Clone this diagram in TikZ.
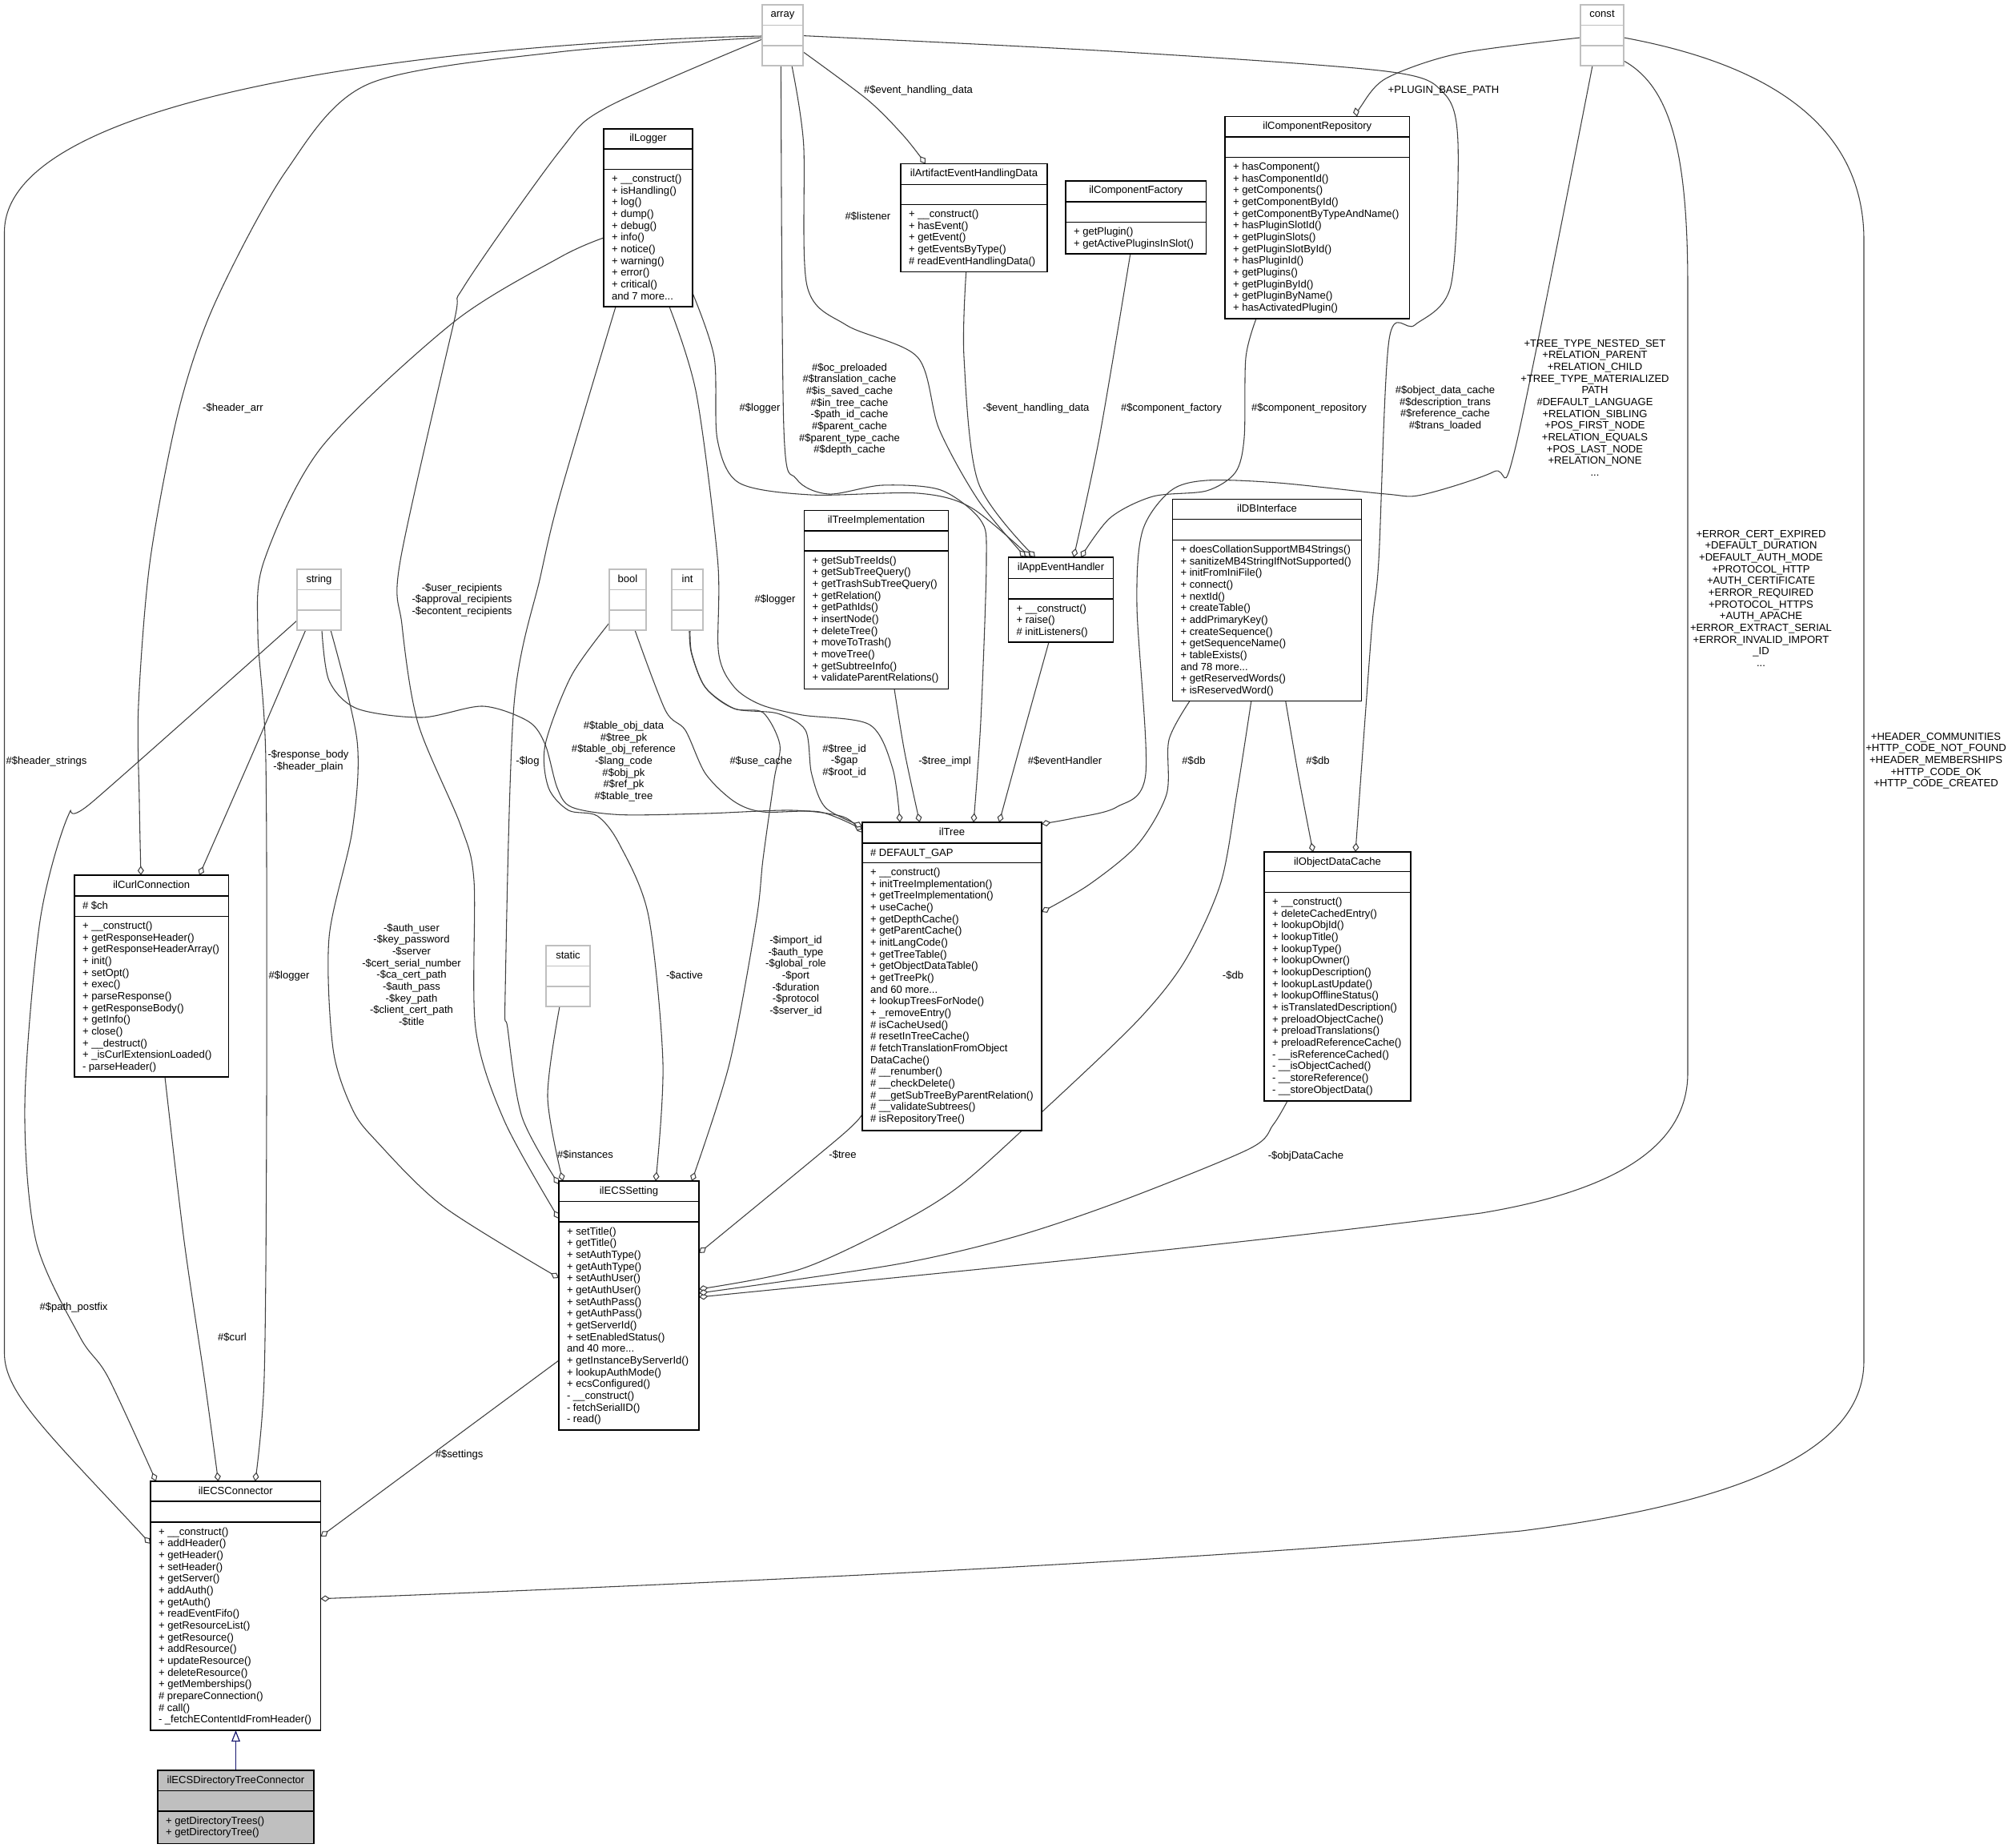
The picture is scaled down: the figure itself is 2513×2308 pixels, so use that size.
\documentclass[tikz,border=0pt]{standalone}
\usepackage{fontspec}
\setmainfont{Liberation Sans}
\usetikzlibrary{arrows.meta,calc}
\definecolor{edgec}{HTML}{404040}
\definecolor{graybd}{HTML}{BFBFBF}
\definecolor{inhc}{HTML}{191970}
\pgfdeclarelayer{bg}
\pgfsetlayers{bg,main}
\newcommand\mlistx[1]{\vtop{\baselineskip=11pt\lineskiplimit=-100pt\lineskip=0pt\halign{##\hfil\cr#1\crcr}}}
\newcommand\clistx[1]{\vtop{\baselineskip=11pt\lineskiplimit=-100pt\lineskip=0pt\halign{\hfil##\hfil\cr#1\crcr}}}
\tikzset{
  x=0.75pt, y=-0.75pt,
  clsbox/.style={draw=black, line width=1pt, inner sep=0pt, outer sep=0pt, anchor=north west, fill=white},
  clsline/.style={draw=black, line width=1pt},
  txt/.style={inner sep=0pt, outer sep=0pt, font=\fontsize{9.8}{11}\selectfont},
  edge/.style={draw=edgec, line width=0.8pt, -{Diamond[length=8.6pt,width=6pt,fill=white]}},
  inh/.style={draw=inhc, line width=0.9pt, -{Triangle[open,length=10.5pt,width=8pt]}},
}
\newcommand\umlclass[9]{%
  \node[clsbox,#1,minimum width={(#5-#3)*0.75pt},minimum height={(#6-#4)*0.75pt}] (#2) at (#3,#4) {};
  \draw[clsline,#1] ($(#2.north west)+(0,#7)$) -- ($(#2.north east)+(0,#7)$);
  \draw[clsline,#1] ($(#2.north west)+(0,#8)$) -- ($(#2.north east)+(0,#8)$);
  \node[txt,anchor=base] (#2-t) at ($(#2.north)+(0,16)$) {#9};
}
\newcommand\umlattr[3]{\node[txt,anchor=base west] (#1-a) at ($(#1.north west)+(10,#2+16)$) {\mlistx{#3}};}
\newcommand\umlmeth[3]{\node[txt,anchor=base west] (#1-m) at ($(#1.north west)+(10,#2+16)$) {\mlistx{#3}};}
\newcommand\lbl[4]{\node[txt,anchor=base] (#1) at (#2,#3) {\clistx{#4}};}
\begin{document}
\begin{tikzpicture}
\useasboundingbox (0,0) rectangle (2513,2308);
\begin{pgfonlayer}{bg}
\fill[white] (0,0) rectangle (2513,2308);
\end{pgfonlayer}
% ---------- classes ----------
\umlclass{draw=graybd}{array}{952}{6}{1003}{82}{25.5}{51}{array}
\umlclass{draw=graybd}{const}{1974}{6}{2028}{82}{25.5}{51}{const}
\umlclass{draw=graybd}{string}{371}{711}{426}{787}{25.5}{51}{string}
\umlclass{draw=graybd}{bool}{761}{711}{807}{787}{25.5}{51}{bool}
\umlclass{draw=graybd}{int}{839}{711}{878}{787}{25.5}{51}{int}
\umlclass{draw=graybd}{static}{682}{1181}{737}{1257}{25.5}{51}{static}

\umlclass{}{logger}{754}{161}{865}{383}{25}{50.5}{ilLogger}
\umlmeth{logger}{50.5}{+ \_\_construct()\cr + isHandling()\cr + log()\cr + dump()\cr + debug()\cr + info()\cr + notice()\cr + warning()\cr + error()\cr + critical()\cr and 7 more...}

\umlclass{}{artifact}{1125}{204.5}{1308}{339.5}{26}{51}{ilArtifactEventHandlingData}
\umlmeth{artifact}{51}{+ \_\_construct()\cr + hasEvent()\cr + getEvent()\cr + getEventsByType()\cr \# readEventHandlingData()}

\umlclass{}{factory}{1331}{226}{1506.5}{317}{26}{51.5}{ilComponentFactory}
\umlmeth{factory}{51.5}{+ getPlugin()\cr + getActivePluginsInSlot()}

\umlclass{}{repo}{1530}{145.5}{1760.5}{398}{25.5}{51}{ilComponentRepository}
\umlmeth{repo}{51}{+ hasComponent()\cr + hasComponentId()\cr + getComponents()\cr + getComponentById()\cr + getComponentByTypeAndName()\cr + hasPluginSlotId()\cr + getPluginSlots()\cr + getPluginSlotById()\cr + hasPluginId()\cr + getPlugins()\cr + getPluginById()\cr + getPluginByName()\cr + hasActivatedPlugin()}

\umlclass{}{treeimpl}{1004.5}{637.5}{1184.5}{860.5}{25.5}{50.5}{ilTreeImplementation}
\umlmeth{treeimpl}{50.5}{+ getSubTreeIds()\cr + getSubTreeQuery()\cr + getTrashSubTreeQuery()\cr + getRelation()\cr + getPathIds()\cr + insertNode()\cr + deleteTree()\cr + moveToTrash()\cr + moveTree()\cr + getSubtreeInfo()\cr + validateParentRelations()}

\umlclass{}{appev}{1259.5}{696}{1390.5}{802}{26.5}{52}{ilAppEventHandler}
\umlmeth{appev}{52}{+ \_\_construct()\cr + raise()\cr \# initListeners()}

\umlclass{}{dbi}{1464.5}{623.5}{1700.5}{875.5}{25}{51}{ilDBInterface}
\umlmeth{dbi}{51}{+ doesCollationSupportMB4Strings()\cr + sanitizeMB4StringIfNotSupported()\cr + initFromIniFile()\cr + connect()\cr + nextId()\cr + createTable()\cr + addPrimaryKey()\cr + createSequence()\cr + getSequenceName()\cr + tableExists()\cr and 78 more...\cr + getReservedWords()\cr + isReservedWord()}

\umlclass{}{tree}{1077}{1027}{1301}{1412}{26}{50.5}{ilTree}
\umlattr{tree}{26}{\# DEFAULT\_GAP}
\umlmeth{tree}{50.5}{+ \_\_construct()\cr + initTreeImplementation()\cr + getTreeImplementation()\cr + useCache()\cr + getDepthCache()\cr + getParentCache()\cr + initLangCode()\cr + getTreeTable()\cr + getObjectDataTable()\cr + getTreePk()\cr and 60 more...\cr + lookupTreesForNode()\cr + \_removeEntry()\cr \# isCacheUsed()\cr \# resetInTreeCache()\cr \# fetchTranslationFromObject\cr DataCache()\cr \# \_\_renumber()\cr \# \_\_checkDelete()\cr \# \_\_getSubTreeByParentRelation()\cr \# \_\_validateSubtrees()\cr \# isRepositoryTree()}

\umlclass{}{odc}{1579}{1064}{1762}{1375}{24.5}{50.5}{ilObjectDataCache}
\umlmeth{odc}{50.5}{+ \_\_construct()\cr + deleteCachedEntry()\cr + lookupObjId()\cr + lookupTitle()\cr + lookupType()\cr + lookupOwner()\cr + lookupDescription()\cr + lookupLastUpdate()\cr + lookupOfflineStatus()\cr + isTranslatedDescription()\cr + preloadObjectCache()\cr + preloadTranslations()\cr + preloadReferenceCache()\cr - \_\_isReferenceCached()\cr - \_\_isObjectCached()\cr - \_\_storeReference()\cr - \_\_storeObjectData()}

\umlclass{}{curl}{93}{1093}{285.5}{1345}{26}{51.5}{ilCurlConnection}
\umlattr{curl}{26}{\# \$ch}
\umlmeth{curl}{51.5}{+ \_\_construct()\cr + getResponseHeader()\cr + getResponseHeaderArray()\cr + init()\cr + setOpt()\cr + exec()\cr + parseResponse()\cr + getResponseBody()\cr + getInfo()\cr + close()\cr + \_\_destruct()\cr + \_isCurlExtensionLoaded()\cr - parseHeader()}

\umlclass{}{setting}{698}{1475}{873}{1786}{25.5}{51}{ilECSSetting}
\umlmeth{setting}{51}{+ setTitle()\cr + getTitle()\cr + setAuthType()\cr + getAuthType()\cr + setAuthUser()\cr + getAuthUser()\cr + setAuthPass()\cr + getAuthPass()\cr + getServerId()\cr + setEnabledStatus()\cr and 40 more...\cr + getInstanceByServerId()\cr + lookupAuthMode()\cr + ecsConfigured()\cr - \_\_construct()\cr - fetchSerialID()\cr - read()}

\umlclass{}{conn}{188}{1850}{400.5}{2161}{25}{51}{ilECSConnector}
\umlmeth{conn}{51}{+ \_\_construct()\cr + addHeader()\cr + getHeader()\cr + setHeader()\cr + getServer()\cr + addAuth()\cr + getAuth()\cr + readEventFifo()\cr + getResourceList()\cr + getResource()\cr + addResource()\cr + updateResource()\cr + deleteResource()\cr + getMemberships()\cr \# prepareConnection()\cr \# call()\cr - \_fetchEContentIdFromHeader()}

\umlclass{fill=graybd}{dirtree}{197}{2211}{392}{2302.5}{25.5}{51}{ilECSDirectoryTreeConnector}
\umlmeth{dirtree}{51}{+ getDirectoryTrees()\cr + getDirectoryTree()}

% ---------- connectors ----------
\begin{pgfonlayer}{bg}
% array
\draw[edge] ($(array.north west)+(0,39)$) .. controls (600,52) and (5.5,110) .. (5.5,290) -- (5.5,1690) .. controls (5.5,1740) and (60,1790) .. ($(conn.north west)+(0,78)$);
\draw[edge] plot[smooth] coordinates {($(array.north west)+(0,41)$) (700,64.7) (460,105) (357,214) (268,379.5) (223,513) (187.5,700) (173,880) (174,1000) ($(curl.north west)+(83,0)$)};
\draw[edge] plot[smooth] coordinates {($(array.north west)+(0,43)$) (758,134) (700,187.5) (580,357) (567,402) (500,700) (502,780) (522,903) (575,1030) (592,1100) (594,1284) (630,1400) ($(setting.north west)+(0,47)$)};
\draw[edge] plot[smooth] coordinates {($(array.north east)+(0,58.7)$) (1084,125) (1128.6,169.6) ($(artifact.north west)+(31,0)$)};
\draw[edge] plot[smooth] coordinates {($(array.south west)+(37,0)$) (1003.6,178.6) (1008,357) (1057,406) (1146,446) (1173,536) (1222,625) ($(appev.north west)+(21.5,0)$)};
\draw[edge] plot[smooth] coordinates {($(array.south west)+(23.4,0)$) (979,535.7) (994.6,598) (1035,617) (1102,606) (1175,612) (1225,650) (1232,700) (1225,900) ($(tree.north west)+(139,0)$)};
\draw[edge] plot[smooth] coordinates {($(array.north east)+(0,38.6)$) (1400,64.7) (1731,89) (1803,116) (1821,178.6) (1812,357) (1767,406) (1735,424) (1722,700) (1713,789) ($(odc.north west)+(114,0)$)};
% const
\draw[edge] plot[smooth] coordinates {($(const.north west)+(0,41)$) (1821,67) (1731,98) (1699,134) ($(repo.north west)+(165,0)$)};
\draw[edge] plot[smooth] coordinates {($(const.south west)+(15,0)$) (1893,558) (1866,589) (1776,618) (1731,617) (1596,603) (1507,600) (1462,613) (1427,663) (1420,757) (1431,966) (1394.6,1008) (1340,1022) ($(tree.north east)+(0,2)$)};
\draw[edge] ($(const.north east)+(0,70)$) .. controls (2090,110) and (2108,200) .. (2108,360) -- (2108,1340) .. controls (2108,1440) and (2000,1490) .. (1850,1515) .. controls (1500,1560) and (1100,1597) .. ($(setting.north east)+(0,145)$);
\draw[edge] ($(const.north east)+(0,41)$) .. controls (2180,75) and (2328,140) .. (2328,300) -- (2328,1700) .. controls (2328,1820) and (2150,1880) .. (1900,1912) .. controls (1500,1950) and (900,1977) .. ($(conn.north east)+(0,146.7)$);
% ilLogger
\draw[edge] plot[smooth] coordinates {($(logger.north west)+(0,136)$) (700,321) (567,402) (402,558) (330,700) (322,790) (332,950) (333,1380) (330,1720) ($(conn.north west)+(130.7,0)$)};
\draw[edge] plot[smooth] coordinates {($(logger.south west)+(15,0)$) (700,616) (675,720) (642,880) (631,1240) (634,1284) (652,1395) ($(setting.north west)+(0,4)$)};
\draw[edge] plot[smooth] coordinates {($(logger.north east)+(0,205)$) (892,446) (896,549) (923,603) (1012.5,618) (1146,616) (1213,634) ($(appev.north west)+(27.5,0)$)};
\draw[edge] plot[smooth] coordinates {($(logger.south west)+(82,0)$) (869.6,491) (896.4,700) (897.5,815) (917,858) (950,880) (1002,893) (1086,905) (1115,960) ($(tree.north west)+(47,0)$)};
% into ilAppEventHandler
\draw[edge] plot[smooth] coordinates {($(artifact.south west)+(81.7,0)$) (1204,446) (1222,603) ($(appev.north west)+(33.5,0)$)};
\draw[edge] plot[smooth] coordinates {($(factory.south west)+(80.8,0)$) (1373,547) ($(appev.north west)+(81.5,0)$)};
\draw[edge] plot[smooth] coordinates {($(repo.south west)+(39,0)$) (1556,446.7) (1554,546.7) (1543,590) (1507,613) (1440,620) (1386.6,646.7) ($(appev.north west)+(90.5,0)$)};
% into ilTree
\draw[edge] plot[smooth] coordinates {($(treeimpl.south west)+(112.5,0)$) (1130,940) ($(tree.north west)+(71.7,0)$)};
\draw[edge] plot[smooth] coordinates {($(appev.south west)+(50.5,0)$) (1280,910) ($(tree.north west)+(171,0)$)};
\draw[edge] plot[smooth] coordinates {($(dbi.south west)+(21.5,0)$) (1460,924) (1457,992) (1420.7,1055) (1360,1105) ($(tree.north east)+(0,112)$)};
\draw[edge] plot[smooth] coordinates {($(string.south west)+(31,0)$) (411,850) (446,885) (527,896) (603,882) (660,901) (681,930) (696,984) (714,1008) (774,1017.5) (881,1016) (989,1012) (1053,1020) ($(tree.north west)+(0,13)$)};
\draw[edge] plot[smooth] coordinates {($(bool.south west)+(32,0)$) (831,887) (856,912) (881,966) (917,1001) (953,1014) (1024,1014) ($(tree.north west)+(0,9)$)};
\draw[edge] plot[smooth] coordinates {($(int.south west)+(22,0)$) (863.6,816) (881,858.6) (917,885) (971,891) (1006,912) (1013.6,966) (1031,1008.6) ($(tree.north west)+(0,5)$)};
% into ilObjectDataCache
\draw[edge] plot[smooth] coordinates {($(dbi.south west)+(141.2,0)$) (1622,970) ($(odc.north west)+(61,0)$)};
% into ilCurlConnection
\draw[edge] plot[smooth] coordinates {($(string.south west)+(10.7,0)$) (316,940) ($(curl.north west)+(156,0)$)};
% into ilECSSetting
\draw[edge] plot[smooth] coordinates {($(string.south west)+(42,0)$) (446,925) (440,1037) (411,1171) (416,1310) (440,1385) (470,1425) (554,1507) ($(setting.north west)+(0,121)$)};
\draw[edge] plot[smooth] coordinates {($(bool.north west)+(0,67)$) (713.6,844) (681,930) (685,983.6) (710,1012) (746,1019) (774,1055) (810,1144) (828,1328) ($(setting.north west)+(121,0)$)};
\draw[edge] plot[smooth] coordinates {($(int.south west)+(23,0)$) (864,816) (881,858.6) (917,885) (953,890) (974,930) (967,973) (953,1073) (944.5,1150) (911,1328.6) ($(setting.north west)+(166,0)$)};
\draw[edge] plot[smooth] coordinates {($(static.south west)+(17,0)$) (684,1370) ($(setting.north west)+(5,0)$)};
\draw[edge] plot[smooth] coordinates {($(tree.north west)+(0,364)$) (1049,1420) ($(setting.north east)+(0,90)$)};
\draw[edge] plot[smooth] coordinates {($(dbi.south west)+(98.3,0)$) (1545,990) (1524.6,1103) (1480,1200) (1420,1275.6) (1300,1390) (1200,1480) (1120,1529.5) (1000,1585) ($(setting.north east)+(0,135)$)};
\draw[edge] plot[smooth] coordinates {($(odc.south west)+(29,0)$) (1590,1405) (1560,1435) (1400,1500) (1266,1545) (1120,1579) ($(setting.north east)+(0,140)$)};
% into ilECSConnector
\draw[edge] plot[smooth] coordinates {($(string.north west)+(0,64)$) (116,1001) (85,1019) (50,1150) (31,1380) (45,1550) (100,1670) (135,1720) ($(conn.north west)+(7,0)$)};
\draw[edge] plot[smooth] coordinates {($(curl.south west)+(113,0)$) (230,1550) (255,1720) ($(conn.north west)+(84.6,0)$)};
\draw[edge] ($(setting.north west)+(0,224)$) -- ($(conn.north east)+(0,69)$);
% inheritance
\draw[inh] (dirtree.north) -- (dirtree.north |- conn.south);
\end{pgfonlayer}

% ---------- labels ----------
\lbl{l1}{58}{954}{\#\$header\_strings}
\lbl{l2}{291}{513}{-\$header\_arr}
\lbl{l3}{577}{738}{-\$user\_recipients\cr -\$approval\_recipients\cr -\$econtent\_recipients}
\lbl{l4}{949}{513}{\#\$logger}
\lbl{l5}{1061}{463}{\#\$oc\_preloaded\cr \#\$translation\_cache\cr \#\$is\_saved\_cache\cr \#\$in\_tree\_cache\cr -\$path\_id\_cache\cr \#\$parent\_cache\cr \#\$parent\_type\_cache\cr \#\$depth\_cache}
\lbl{l6}{1084}{274.5}{\#\$listener}
\lbl{l7}{1147}{116.5}{\#\$event\_handling\_data}
\lbl{l8}{1294}{513}{-\$event\_handling\_data}
\lbl{l9}{1463}{513}{\#\$component\_factory}
\lbl{l10}{1635}{513}{\#\$component\_repository}
\lbl{l11}{1803}{116.5}{+PLUGIN\_BASE\_PATH}
\lbl{l12}{1805}{491.5}{\#\$object\_data\_cache\cr \#\$description\_trans\cr \#\$reference\_cache\cr \#\$trans\_loaded}
\lbl{l13}{1992}{433}{+TREE\_TYPE\_NESTED\_SET\cr +RELATION\_PARENT\cr +RELATION\_CHILD\cr +TREE\_TYPE\_MATERIALIZED\cr PATH\cr \#DEFAULT\_LANGUAGE\cr +RELATION\_SIBLING\cr +POS\_FIRST\_NODE\cr +RELATION\_EQUALS\cr +POS\_LAST\_NODE\cr +RELATION\_NONE\cr ...}
\lbl{l14}{385}{946.5}{-\$response\_body\cr -\$header\_plain}
\lbl{l15}{361}{1222}{\#\$logger}
\lbl{l16}{659}{954.5}{-\$log}
\lbl{l17}{514}{1163}{-\$auth\_user\cr -\$key\_password\cr -\$server\cr -\$cert\_serial\_number\cr -\$ca\_cert\_path\cr -\$auth\_pass\cr -\$key\_path\cr -\$client\_cert\_path\cr -\$title}
\lbl{l18}{779}{910.5}{\#\$table\_obj\_data\cr \#\$tree\_pk\cr \#\$table\_obj\_reference\cr -\$lang\_code\cr \#\$obj\_pk\cr \#\$ref\_pk\cr \#\$table\_tree}
\lbl{l19}{950.5}{954.4}{\#\$use\_cache}
\lbl{l20}{1054.6}{939}{\#\$tree\_id\cr -\$gap\cr \#\$root\_id}
\lbl{l21}{968}{752.6}{\#\$logger}
\lbl{l22}{1180}{954.4}{-\$tree\_impl}
\lbl{l23}{1330}{954.4}{\#\$eventHandler}
\lbl{l24}{1491}{954.4}{\#\$db}
\lbl{l25}{1646}{954.4}{\#\$db}
\lbl{l26}{1540}{1222.7}{-\$db}
\lbl{l27}{855}{1222}{-\$active}
\lbl{l28}{994}{1178.6}{-\$import\_id\cr -\$auth\_type\cr -\$global\_role\cr -\$port\cr -\$duration\cr -\$protocol\cr -\$server\_id}
\lbl{l29}{731}{1446.4}{\#\$instances}
\lbl{l30}{1052.5}{1446.4}{-\$tree}
\lbl{l31}{1631}{1447}{-\$objDataCache}
\lbl{l32}{573.6}{1820.5}{\#\$settings}
\lbl{l33}{290}{1674}{\#\$curl}
\lbl{l34}{92}{1636}{\#\$path\_postfix}
\lbl{l35}{2199.5}{671.2}{+ERROR\_CERT\_EXPIRED\cr +DEFAULT\_DURATION\cr +DEFAULT\_AUTH\_MODE\cr +PROTOCOL\_HTTP\cr +AUTH\_CERTIFICATE\cr +ERROR\_REQUIRED\cr +PROTOCOL\_HTTPS\cr +AUTH\_APACHE\cr +ERROR\_EXTRACT\_SERIAL\cr +ERROR\_INVALID\_IMPORT\cr \_ID\cr ...}
\lbl{l36}{2418}{924.2}{+HEADER\_COMMUNITIES\cr +HTTP\_CODE\_NOT\_FOUND\cr +HEADER\_MEMBERSHIPS\cr +HTTP\_CODE\_OK\cr +HTTP\_CODE\_CREATED}
\end{tikzpicture}
\end{document}
